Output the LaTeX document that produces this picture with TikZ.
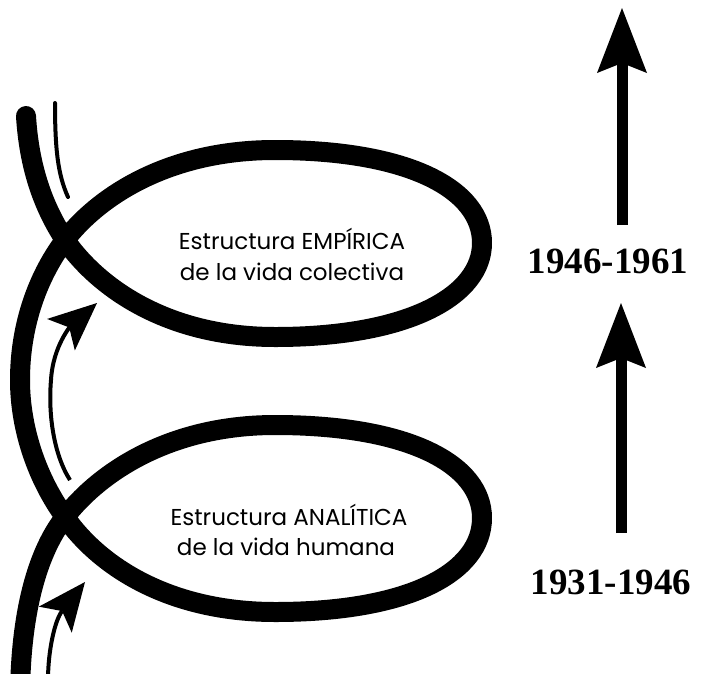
\documentclass[tikz,border=0pt]{standalone}
\usepackage{fontspec}
\setmainfont{Liberation Serif}
\newfontfamily\loopfont{Poppins}
\usetikzlibrary{arrows.meta}
\begin{document}
\begin{tikzpicture}[x=1pt,y=-1pt,
  thickcurve/.style={line width=20pt, line cap=round, line join=round},
  thincurve/.style={line width=4pt},
  looplabel/.style={font=\loopfont\fontsize{23}{28}\selectfont, anchor=base, inner sep=0pt},
  yearlabel/.style={font=\bfseries\fontsize{37}{40}\selectfont, anchor=base, inner sep=0pt},
  periodarrow/.style={line width=11pt, -{Stealth[length=65pt,width=50pt,inset=10pt,line width=0pt]}},
  smallarrow/.style={thincurve, -{Stealth[length=48pt,width=42pt,inset=11pt,line width=0pt]}}
]
\useasboundingbox (0,0) rectangle (702,673);
\begin{scope}
\clip (0,0) rectangle (702,673);
% crossings
\coordinate (A) at (65,240);
\coordinate (B) at (65,517);
\coordinate (top) at (26,116);
\coordinate (bottom) at (20,700);
% main thick curve
\draw[thickcurve] (top) .. controls (29,165) and (42,205) .. (A)
  .. controls (100,290) and (170,337) .. (275,337)
  .. controls (410,337) and (482,295) .. (482,243)
  .. controls (482,190) and (410,150) .. (275,150)
  .. controls (170,150) and (100,195) .. (A)
  .. controls (35,280) and (20,330) .. (20,380)
  .. controls (20,430) and (38,480) .. (B)
  .. controls (100,567) and (170,612) .. (275,612)
  .. controls (410,612) and (482,572) .. (482,518)
  .. controls (482,465) and (410,425) .. (275,425)
  .. controls (170,425) and (100,472) .. (B)
  .. controls (35,555) and (20,620) .. (bottom);
% thin curves
\coordinate (t1s) at (55,103);
\coordinate (t1e) at (68,197);
\draw[thincurve, line cap=round] (t1s) .. controls (55,150) and (58,175) .. (t1e);
\coordinate (t2s) at (70,480);
\coordinate (t2m) at (51,380);
\coordinate (t2e) at (97,303);
\draw[smallarrow] (t2s) .. controls (54,455) and (48,415) .. (t2m)
  .. controls (53,345) and (72,325) .. (t2e);
\coordinate (t3s) at (48,680);
\coordinate (t3e) at (85,582);
\draw[smallarrow] (t3s) .. controls (48,650) and (55,620) .. (t3e);
\end{scope}
% texts
\node[looplabel] (emp1) at (292,249) {Estructura EMPÍRICA};
\node[looplabel] (emp2) at (292,280) {de la vida colectiva};
\node[looplabel] (ana1) at (289,525) {Estructura ANALÍTICA};
\node[looplabel] (ana2) at (286,555) {de la vida humana};
% period arrows
\coordinate (p1s) at (622,225);
\coordinate (p1e) at (622,8);
\coordinate (p2s) at (621,533);
\coordinate (p2e) at (621,303);
\draw[periodarrow] (p1s) -- (p1e);
\draw[periodarrow] (p2s) -- (p2e);
\node[yearlabel] (y1) at (608,273) {1946-1961};
\node[yearlabel] (y2) at (611,594) {1931-1946};
\end{tikzpicture}
\end{document}
